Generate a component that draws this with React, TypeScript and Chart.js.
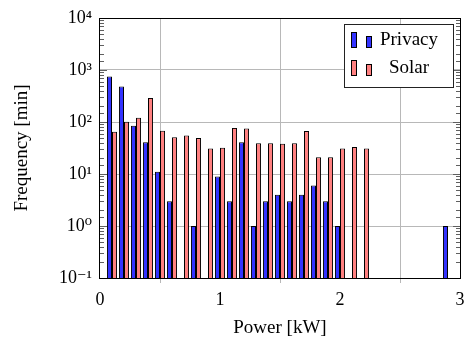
import React, { useEffect, useRef } from 'react';
import { Chart, registerables } from 'chart.js';

Chart.register(...registerables);

// Power bins (kW), bar group centres
const powerBins = [
  0.1, 0.2, 0.3, 0.4, 0.5, 0.6, 0.7, 0.8, 0.9, 1.0,
  1.1, 1.2, 1.3, 1.4, 1.5, 1.6, 1.7, 1.8, 1.9, 2.0,
  2.1, 2.2, 2.3, 2.4, 2.5, 2.6, 2.7, 2.8, 2.9,
];

// Frequency [min] per bin
const privacyMinutes: (number | null)[] = [
  750, 480, 85, 41, 11, 3, null, 1, null, 9,
  3, 41, 1, 3, 4, 3, 4, 6, 3, 1,
  null, null, null, null, null, null, null, null, 1,
];

const solarMinutes: (number | null)[] = [
  65, 101, 121, 290, 68, 51, 55, 49, 31, 32,
  77, 75, 39, 39, 38, 39, 67, 21, 21, 31,
  33, 31, null, null, null, null, null, null, null,
];

const seriesLabels = ['Privacy', 'Solar'];
const xTickValues = [0, 1, 2, 3];

const FONT = "'Liberation Serif', 'DejaVu Serif', serif";
const BLUE = 'rgb(51,51,255)';
const RED = 'rgb(255,128,128)';
const GRID = '#b8b8b8';

const SUP: Record<string, string> = {
  '-': '\u207B', '0': '\u2070', '1': '\u00B9', '2': '\u00B2', '3': '\u00B3',
  '4': '\u2074', '5': '\u2075', '6': '\u2076', '7': '\u2077', '8': '\u2078', '9': '\u2079',
};

function decadeOf(v: number): number | null {
  const l = Math.log10(v);
  const r = Math.round(l);
  return Math.abs(l - r) < 1e-9 ? r : null;
}

function supLabel(e: number): string {
  return '10' + String(e).split('').map((c) => SUP[c] || c).join('');
}

const framePlugin = {
  id: 'frame',
  afterDatasetsDraw(chart: any) {
    const { ctx, chartArea } = chart;
    const { left, right, top, bottom } = chartArea;
    const ys = chart.scales.y;
    ctx.save();
    ctx.lineWidth = 1;
    ctx.strokeStyle = '#606060';
    for (const t of ys.ticks) {
      const y = Math.round(ys.getPixelForValue(t.value)) + 0.5;
      const len = decadeOf(t.value) !== null ? 7 : 4;
      ctx.beginPath();
      ctx.moveTo(left, y);
      ctx.lineTo(left + len, y);
      ctx.moveTo(right, y);
      ctx.lineTo(right - len, y);
      ctx.stroke();
    }
    ctx.strokeStyle = '#000';
    ctx.strokeRect(Math.round(left) - 0.5, Math.round(top) + 0.5, Math.round(right - left) + 1, Math.round(bottom - top));
    ctx.restore();
  },
};

const legendPlugin = {
  id: 'boxLegend',
  afterDraw(chart: any) {
    const { ctx } = chart;
    const bx = 344, by = 24, bw = 109, bh = 63;
    ctx.save();
    ctx.fillStyle = '#fff';
    ctx.fillRect(bx, by, bw, bh);
    ctx.strokeStyle = '#222';
    ctx.lineWidth = 1;
    ctx.strokeRect(bx + 0.5, by + 0.5, bw, bh);
    const rows = [40, 68];
    chart.data.datasets.forEach((ds: any, i: number) => {
      const cy = rows[i];
      const base = cy + 7;
      ctx.fillStyle = ds.backgroundColor;
      ctx.strokeStyle = '#000';
      ctx.fillRect(351, base - 15, 5, 15);
      ctx.strokeRect(351.5, base - 14.5, 5, 15);
      ctx.fillRect(366, base - 11, 5, 11);
      ctx.strokeRect(366.5, base - 10.5, 5, 11);
      ctx.fillStyle = '#000';
      ctx.font = `19px ${FONT}`;
      ctx.textAlign = 'center';
      ctx.textBaseline = 'middle';
      ctx.fillText(ds.label, 409, cy);
    });
    ctx.restore();
  },
};

export default function App() {
  const ref = useRef<HTMLCanvasElement | null>(null);

  useEffect(() => {
    document.body.style.margin = '0';
    const canvas = ref.current;
    if (!canvas) return;
    const chart = new Chart(canvas, {
      type: 'bar',
      data: {
        datasets: [
          {
            label: seriesLabels[0],
            data: powerBins.map((x, i) => ({ x, y: privacyMinutes[i] })) as any,
            backgroundColor: BLUE,
            borderColor: '#000',
            borderWidth: 1,
          },
          {
            label: seriesLabels[1],
            data: powerBins.map((x, i) => ({ x, y: solarMinutes[i] })) as any,
            backgroundColor: RED,
            borderColor: '#000',
            borderWidth: 1,
          },
        ],
      },
      options: {
        responsive: false,
        animation: false,
        devicePixelRatio: 1,
        layout: { padding: { top: 18, right: 5, left: 0, bottom: 0 } },
        datasets: { bar: { categoryPercentage: 0.84, barPercentage: 1 } } as any,
        plugins: {
          legend: { display: false },
          tooltip: { enabled: false },
        },
        scales: {
          x: {
            type: 'linear',
            min: 0,
            max: 3,
            offset: false,
            afterBuildTicks: (s: any) => {
              s.ticks = xTickValues.map((v) => ({ value: v }));
            },
            ticks: {
              color: '#000',
              font: { family: FONT, size: 18 },
              padding: 6,
              maxRotation: 0,
              callback: (v: any) => String(v),
            },
            grid: { color: GRID, lineWidth: 1, tickLength: 5, drawTicks: true },
            border: { display: false },
            title: {
              display: true,
              text: 'Power [kW]',
              color: '#000',
              font: { family: FONT, size: 19 },
              padding: { top: 0, bottom: 6 },
            },
            afterFit: (s: any) => {
              s.height = 67;
              s.paddingLeft = 0;
              s.paddingRight = 0;
            },
          } as any,
          y: {
            type: 'logarithmic',
            min: 0.1,
            max: 10000,
            ticks: {
              autoSkip: false,
              color: '#000',
              font: { family: FONT, size: 18 },
              padding: 8,
              callback: (v: any) => {
                const d = decadeOf(Number(v));
                return d === null ? '' : supLabel(d);
              },
            },
            grid: {
              drawTicks: false,
              lineWidth: 1,
              color: (c: any) => (c.tick && decadeOf(c.tick.value) !== null ? GRID : 'rgba(0,0,0,0)'),
            },
            border: { display: false },
            title: {
              display: true,
              text: 'Frequency [min]',
              color: '#000',
              font: { family: FONT, size: 19 },
              padding: { top: 11, bottom: 0 },
            },
            afterFit: (s: any) => {
              s.width = 100;
              s.paddingTop = 0;
              s.paddingBottom = 0;
            },
          } as any,
        },
      },
      plugins: [framePlugin, legendPlugin],
    });
    return () => chart.destroy();
  }, []);

  return (
    <div style={{ width: 465, height: 345 }}>
      <canvas ref={ref} width={465} height={345} style={{ display: 'block' }} />
    </div>
  );
}
